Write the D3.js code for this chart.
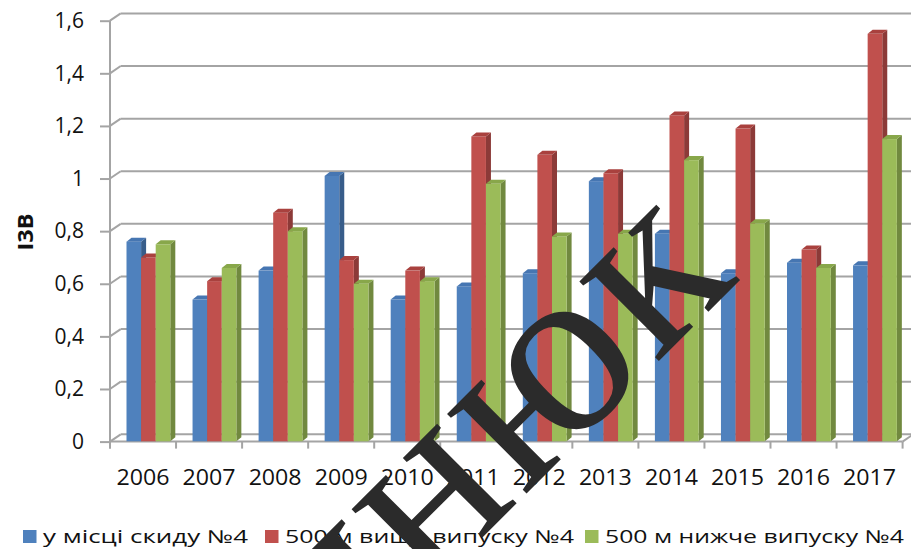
<!DOCTYPE html>
<html><head><meta charset="utf-8">
<script src="https://cdn.jsdelivr.net/npm/d3@7/dist/d3.min.js"></script>
<style>
html,body{margin:0;padding:0;background:#fff;}
svg{display:block;}
text{font-family:"Open Sans",sans-serif;fill:#111;}
</style></head>
<body>
<svg id="c" width="911" height="549"></svg>
<script>
// ---- data ----
const years = ["2006","2007","2008","2009","2010","2011","2012","2013","2014","2015","2016","2017"];
const seriesNames = ["у місці скиду №4","500 м вище випуску №4","500 м нижче випуску №4"];
const blueVals  = [0.76,0.54,0.65,1.01,0.54,0.59,0.64,0.99,0.79,0.64,0.68,0.67];
const redVals   = [0.70,0.61,0.87,0.69,0.65,1.16,1.09,1.02,1.24,1.19,0.73,1.55];
const greenVals = [0.75,0.66,0.80,0.60,0.61,0.98,0.78,0.79,1.07,0.83,0.66,1.15];
const yTicks = [0,0.2,0.4,0.6,0.8,1.0,1.2,1.4,1.6];
const yTitle = "І3В";
const watermark = "ннюк";

// ---- styles ----
const colors = [
  {front:"#4F81BD", side:"#385D8A", top:"#4676b2"},
  {front:"#C0504D", side:"#8C3A38", top:"#a9413e"},
  {front:"#9BBB59", side:"#71893F", top:"#88a74a"}
];
const W=911,H=549;
const svg=d3.select("#c");
const allVals=[blueVals,redVals,greenVals];

const x=d3.scaleBand().domain(years).range([110,902.6]).padding(0);
const s=d3.scaleBand().domain(d3.range(3)).range([16.5,16.5+43.8]).padding(0);
const y=d3.scaleLinear().domain([0,1.6]).range([441.6,20.7]);
const DX=10.7, DY=7.3;   // wall depth
const bdx=5, bdy=4;      // bar depth

const loc=d3.formatLocale({decimal:",",thousands:" ",grouping:[3],currency:["",""]});
const fmt=loc.format("~g");

// back wall gridlines
const g=svg.append("g");
g.selectAll("line.grid").data(yTicks).join("line")
  .attr("x1",110+DX).attr("x2",W+5)
  .attr("y1",d=>y(d)-DY).attr("y2",d=>y(d)-DY)
  .attr("stroke","#a4a4a4").attr("stroke-width",2);
g.selectAll("line.con").data(yTicks).join("line")
  .attr("x1",110).attr("x2",110+DX)
  .attr("y1",d=>y(d)).attr("y2",d=>y(d)-DY)
  .attr("stroke","#a4a4a4").attr("stroke-width",2);
g.append("line").attr("x1",110).attr("x2",x.range()[1]).attr("y1",y(0)).attr("y2",y(0))
  .attr("stroke","#a4a4a4").attr("stroke-width",2);
g.append("line").attr("x1",x.range()[1]).attr("x2",x.range()[1]+DX).attr("y1",y(0)).attr("y2",y(0)-DY)
  .attr("stroke","#a4a4a4").attr("stroke-width",2);
g.append("line").attr("x1",110).attr("x2",110).attr("y1",y(1.6)).attr("y2",y(0)+7)
  .attr("stroke","#a4a4a4").attr("stroke-width",2);

// y axis
const yAxis=d3.axisLeft(y).tickValues(yTicks).tickFormat(fmt).tickSize(10).tickPadding(16);
const ya=svg.append("g").attr("transform","translate(110,0)").call(yAxis);
ya.select(".domain").remove();
ya.selectAll(".tick line").attr("stroke","#a4a4a4").attr("stroke-width",2);
ya.selectAll(".tick text").attr("font-size",21).attr("font-family","Open Sans").attr("fill","#111");

// x ticks at category boundaries
const bounds=d3.range(years.length+1).map(i=>x.range()[0]+i*x.step());
svg.selectAll("line.xt").data(bounds).join("line")
  .attr("x1",d=>d).attr("x2",d=>d).attr("y1",y(0)).attr("y2",y(0)+7)
  .attr("stroke","#a4a4a4").attr("stroke-width",2);

// x labels
const xAxis=d3.axisBottom(x).tickSize(0).tickPadding(28);
const xa=svg.append("g").attr("transform",`translate(0,${y(0)})`).call(xAxis);
xa.select(".domain").remove();
xa.selectAll(".tick text").attr("font-size",21).attr("font-family","Open Sans").attr("fill","#111")
  .attr("textLength",53).attr("lengthAdjust","spacingAndGlyphs");

// bars
const bars=svg.append("g");
years.forEach((yr,i)=>{
  allVals.forEach((vals,k)=>{
    const v=vals[i];
    const x0=x(yr)+s(k), w=s.bandwidth(), yt=y(v), yb=y(0)-0.3;
    const c=colors[k];
    const gb=bars.append("g");
    gb.append("path").attr("d",`M${x0+w},${yt}L${x0+w+bdx},${yt-bdy}L${x0+w+bdx},${yb-bdy}L${x0+w},${yb}Z`).attr("fill",c.side);
    gb.append("rect").attr("x",x0).attr("y",yt).attr("width",w).attr("height",yb-yt).attr("fill",c.front);
    gb.append("path").attr("d",`M${x0},${yt}L${x0+bdx},${yt-bdy}L${x0+w+bdx},${yt-bdy}L${x0+w},${yt}Z`).attr("fill",c.top);
  });
});

// y title
svg.append("text").attr("transform","translate(33,232) rotate(-90)")
  .attr("text-anchor","middle").attr("font-size",21).attr("font-weight","bold")
  .attr("textLength",37).attr("lengthAdjust","spacingAndGlyphs").text(yTitle);

// legend
const legX=[23,265,585];
const legTextLen=[205,289,299];
const lg=svg.append("g");
seriesNames.forEach((n,k)=>{
  lg.append("rect").attr("x",legX[k]).attr("y",530).attr("width",13.5).attr("height",13).attr("fill",colors[k].front);
  lg.append("text").attr("x",legX[k]+20).attr("y",543).attr("font-size",18)
    .attr("textLength",legTextLen[k]).attr("lengthAdjust","spacingAndGlyphs").text(n);
});

// watermark
svg.append("text").attr("transform","translate(332.5,687.5) rotate(-45)")
  .attr("text-anchor","start").attr("font-size",245).attr("letter-spacing",4)
  .style("fill","#2b2b2b").style("font-family","'Liberation Serif',serif").text(watermark);
</script>
</body></html>
